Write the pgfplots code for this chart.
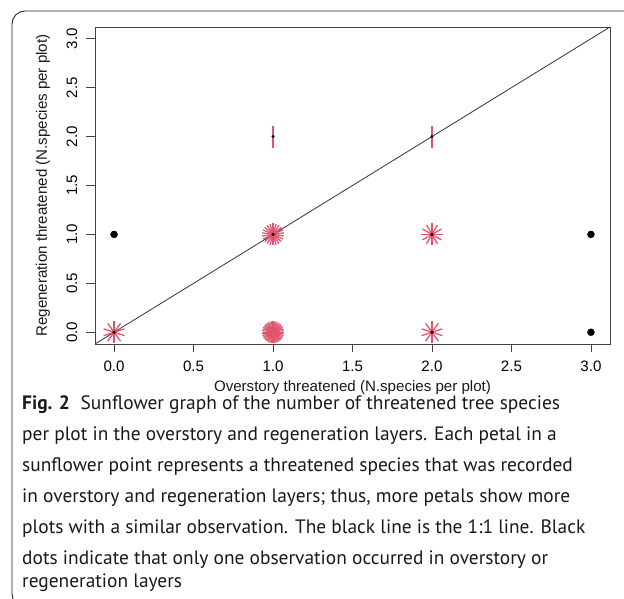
\documentclass[border=0pt]{standalone}
\usepackage{pgfplots}
\pgfplotsset{compat=1.18}
\usepackage{fontspec}
\setmainfont{Liberation Sans}
\newfontfamily\capfont{PT Sans}
\definecolor{sunred}{HTML}{DF536B}
\definecolor{boxgray}{HTML}{444444}

% sunflower glyph: n petals of fixed length radiating from the point
\newcommand\petal{11pt}
\newcommand\defsun[1]{%
  \pgfdeclareplotmark{sun#1}{%
    \foreach \k in {1,...,#1}{%
      \pgfmathsetmacro\ang{90-360*\k/#1}%
      \pgfpathmoveto{\pgfpointorigin}%
      \pgfpathlineto{\pgfpointpolar{\ang}{\petal}}%
      \pgfusepathqstroke}}}
\defsun{2}\defsun{10}\defsun{12}\defsun{22}\defsun{40}

\newcommand\axfont{\fontsize{15.1}{18}\selectfont}
\newcommand\cfont{\capfont\fontsize{19.4}{22}\selectfont}

\begin{document}
\begin{tikzpicture}[x=1pt,y=1pt]
\useasboundingbox (0,0) rectangle (624,599);
\clip (0,0) rectangle (624,599);
% rounded frame around figure and caption
\draw[line width=0.9pt, black!85, rounded corners=13pt] (12,-8) rectangle (650,588);

\begin{axis}[
  at={(95pt,255pt)}, anchor=south west,
  scale only axis, width=515pt, height=317pt,
  xmin=-0.12, xmax=3.12, ymin=-0.12, ymax=3.12,
  xtick={0,0.5,1,1.5,2,2.5,3}, ytick={0,0.5,1,1.5,2,2.5,3},
  xtick pos=bottom, ytick pos=left,
  tick align=outside, major tick length=8.5pt,
  tick style={boxgray, line width=0.8pt},
  axis line style={boxgray, line width=0.8pt},
  /pgf/number format/.cd, fixed, fixed zerofill, precision=1, assume math mode=true,
  /pgfplots/.cd,
  ticklabel style={font=\axfont, inner sep=0pt},
  xticklabel style={anchor=north},
  yticklabel style={rotate=90, anchor=south},
  xticklabel shift=8pt, yticklabel shift=9pt,
]
% 1:1 line
\addplot[black!80, line width=0.8pt] coordinates {(-0.12,-0.12) (3.12,3.12)};
% sunflowers (petal count = number of plots)
\addplot[only marks, mark=sun10, mark options={draw=sunred, line width=1.25pt}] coordinates {(0,0)};
\addplot[only marks, mark=sun40, mark options={draw=sunred, line width=1.1pt}] coordinates {(1,0)};
\addplot[only marks, mark=sun22, mark options={draw=sunred, line width=1.25pt}] coordinates {(1,1)};
\addplot[only marks, mark=sun10, mark options={draw=sunred, line width=1.25pt}] coordinates {(2,0)};
\addplot[only marks, mark=sun12, mark options={draw=sunred, line width=1.25pt}] coordinates {(2,1)};
\addplot[only marks, mark=sun2, mark options={draw=sunred, line width=1.25pt}] coordinates {(1,2) (2,2)};
% small centre dots of the sunflowers
\addplot[only marks, mark=*, mark size=1.3pt, black] coordinates {(0,0) (1,1) (2,0) (2,1) (1,2) (2,2)};
% single observations
\addplot[only marks, mark=*, mark size=3.5pt, black] coordinates {(0,1) (3,1) (3,0)};
\end{axis}

\node[font=\axfont, text=black!90] at (352.5,211) {Overstory threatened (N.species per plot)};
\node[font=\axfont, text=black!90, rotate=90] at (43,413.5) {Regeneration threatened (N.species per plot)};

\begin{scope}[every node/.style={anchor=base west, inner sep=0pt, font=\cfont, text=black!90}]
\node at (22,189) {\textbf{Fig. 2}\hspace{0.55em}Sunflower graph of the number of threatened tree species};
\node at (22,158) {per plot in the overstory and regeneration layers. Each petal in a};
\node at (22,127) {sunflower point represents a threatened species that was recorded};
\node at (22,96) {in overstory and regeneration layers; thus, more petals show more};
\node at (22,65) {plots with a similar observation. The black line is the 1:1 line. Black};
\node at (22,34) {dots indicate that only one observation occurred in overstory or};
\node at (22,11) {regeneration layers};
\end{scope}
\end{tikzpicture}
\end{document}
